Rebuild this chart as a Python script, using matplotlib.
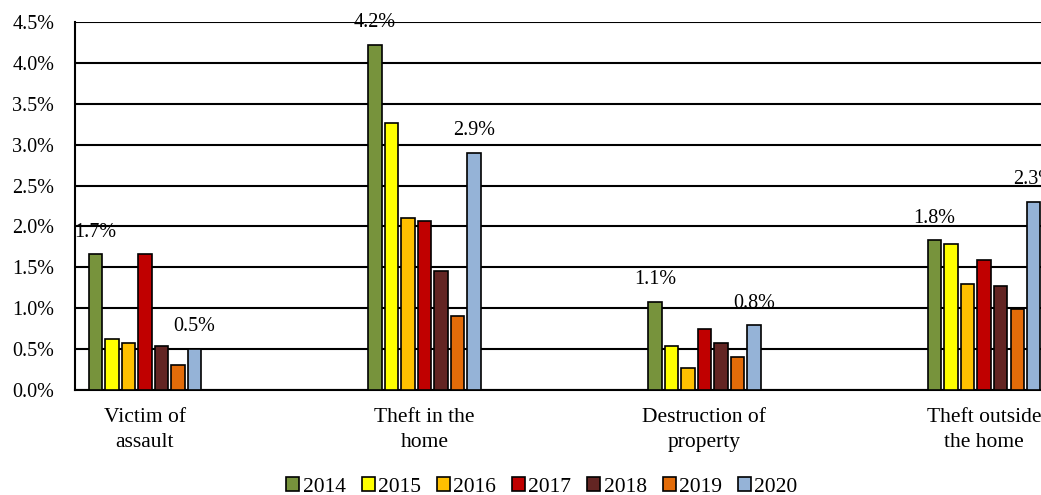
import numpy as np
import matplotlib.pyplot as plt

categories = ["Victim of\nassault", "Theft in the\nhome", "Destruction of\nproperty", "Theft outside\nthe home"]
years = ["2014", "2015", "2016", "2017", "2018", "2019", "2020"]
colors = ["#77933C", "#FFFF00", "#FFC000", "#C00000", "#632523", "#E36C09", "#95B3D7"]

# share of respondents, percent
v2014 = [1.66, 4.22, 1.08, 1.83]
v2015 = [0.62, 3.26, 0.54, 1.79]
v2016 = [0.57, 2.10, 0.27, 1.30]
v2017 = [1.66, 2.07, 0.75, 1.59]
v2018 = [0.54, 1.45, 0.58, 1.27]
v2019 = [0.30, 0.90, 0.40, 0.99]
v2020 = [0.50, 2.90, 0.79, 2.30]
series = [v2014, v2015, v2016, v2017, v2018, v2019, v2020]
labelled = {"2014", "2020"}

plt.rcParams['font.family'] = ['Liberation Serif', 'DejaVu Serif']

fig = plt.figure(figsize=(10.41, 4.95), dpi=100)
ax = fig.add_axes([75 / 1041, 105 / 495, 966 / 1041, 368 / 495])

x = np.arange(len(categories))
step = 0.059
width = 0.048
for i, (yr, vals, c) in enumerate(zip(years, series, colors)):
    pos = x + (i - 3) * step
    ax.bar(pos, vals, width, color=c, edgecolor="black", linewidth=1.2, label=yr, zorder=3)
    if yr in labelled:
        for px, v in zip(pos, vals):
            ax.annotate(f"{v:.1f}%", (px, v), xytext=(0, 16), textcoords="offset points",
                        ha="center", va="center", fontsize=14.5, zorder=4)

ax.set_xlim(-0.25, 3.203)
ax.set_ylim(0, 4.5)
ax.set_yticks(np.arange(0, 4.51, 0.5))
ax.set_yticklabels([f"{t:.1f}%" for t in np.arange(0, 4.51, 0.5)], fontsize=14.5)
ax.set_xticks(x)
ax.set_xticklabels(categories, fontsize=15.5, linespacing=1.45)
ax.tick_params(axis="both", length=0)
ax.tick_params(axis="x", pad=13)
ax.tick_params(axis="y", pad=15)
ax.yaxis.grid(True, color="black", linewidth=1.5, zorder=0)
ax.set_axisbelow(True)
for s in ["top", "right"]:
    ax.spines[s].set_visible(False)
ax.spines["left"].set_linewidth(1.5)
ax.spines["bottom"].set_linewidth(1.5)

fig.legend(loc="center", bbox_to_anchor=(542 / 1041, 1 - 487 / 495), ncol=7, frameon=False,
           fontsize=15.5, handlelength=0.6, handleheight=0.6, handletextpad=0.15,
           columnspacing=0.75)

fig.savefig("out.png", dpi=100)
